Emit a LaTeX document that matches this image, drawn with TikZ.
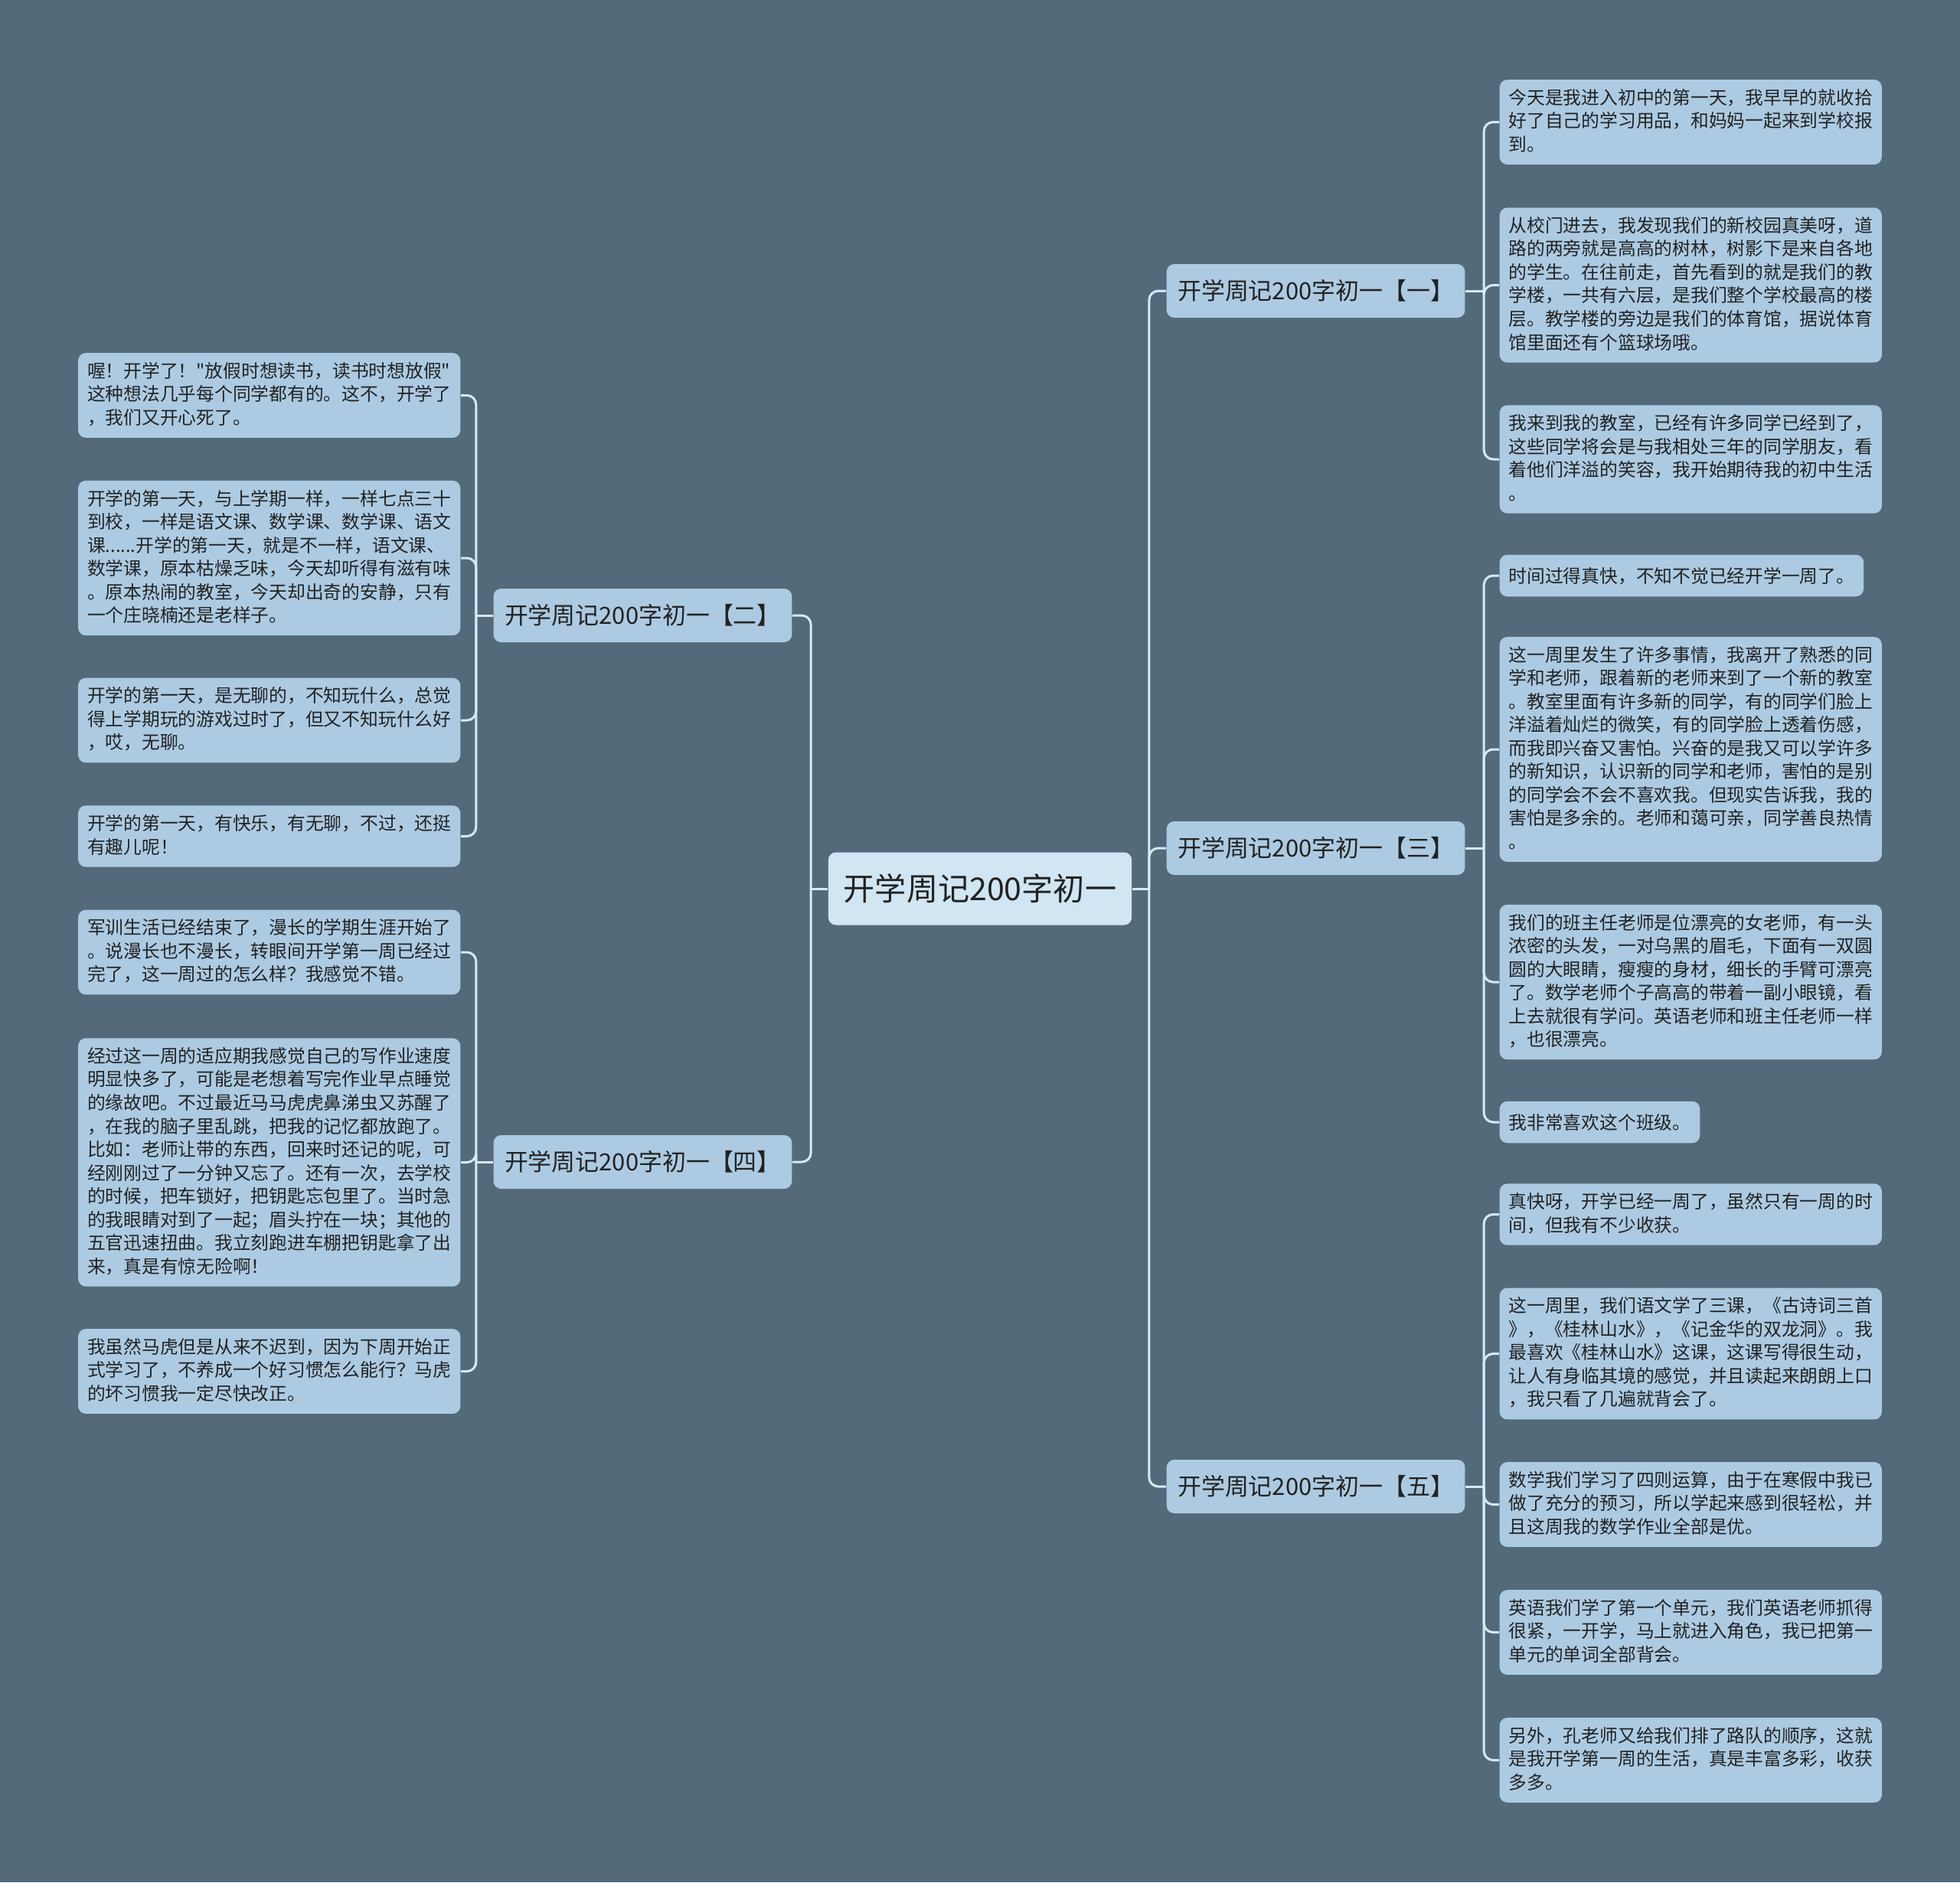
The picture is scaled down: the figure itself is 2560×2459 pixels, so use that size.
\documentclass[tikz,border=0pt]{standalone}
\usepackage{fontspec}
\newfontfamily\cjk{Noto Sans CJK SC}
\definecolor{bgcol}{HTML}{536A7A}
\definecolor{rootfill}{HTML}{D0E6F2}
\definecolor{boxfill}{HTML}{ACCBE2}
\definecolor{linecol}{HTML}{D4EAF6}
\definecolor{txt}{HTML}{222222}
\newcommand\topstrut{\rule{0pt}{\dimexpr0.7\baselineskip+0.35mm\relax}}
\newcommand\botstrut{\rule[\dimexpr-0.3\baselineskip+0.35mm\relax]{0pt}{0pt}}

\begin{document}
\begin{tikzpicture}[x = 0.1mm, y = -0.1mm,
  root/.style = {fill = rootfill, rounded corners = 1mm, minimum height = 9.5mm,
    inner xsep = 2mm, text = txt, font = \cjk\fontsize{11.7pt}{14pt}\selectfont},
  branch/.style = {fill = boxfill, rounded corners = 1mm, minimum height = 7mm,
    inner xsep = 1.45mm, text = txt, font = \cjk\fontsize{8.8pt}{10pt}\selectfont},
  leaf/.style = {fill = boxfill, rounded corners = 1mm, align = left,
    inner xsep = 1.2mm, inner ysep = 1.2mm, text = txt,
    font = \cjk\fontsize{6.76pt}{8.68pt}\selectfont,
    execute at begin node = \topstrut, execute at end node = \botstrut},
  link/.style = {draw = linecol, line width = 0.3mm, rounded corners = 1.2mm}]
  \fill[bgcol] (0, 0) rectangle (2560, 2459);
  \useasboundingbox (0, 0) rectangle (2560, 2459);

  \node[root] (root) at (1280, 1161) {开学周记200字初一};

  \node[branch, anchor = west] (b1) at (1523, 380) {开学周记200字初一【一】};
  \node[branch, anchor = west] (b3) at (1523, 1108) {开学周记200字初一【三】};
  \node[branch, anchor = west] (b5) at (1523, 1942) {开学周记200字初一【五】};
  \node[branch, anchor = east] (b2) at (1035, 804) {开学周记200字初一【二】};
  \node[branch, anchor = east] (b4) at (1035, 1518) {开学周记200字初一【四】};

  \begin{scope}[every node/.style = {leaf, anchor = west}]
    \node (l1a) at (1958, 159.5) {今天是我进入初中的第一天，我早早的就收拾\\好了自己的学习用品，和妈妈一起来到学校报\\到。};
    \node (l1b) at (1958, 372.5) {从校门进去，我发现我们的新校园真美呀，道\\路的两旁就是高高的树林，树影下是来自各地\\的学生。在往前走，首先看到的就是我们的教\\学楼，一共有六层，是我们整个学校最高的楼\\层。教学楼的旁边是我们的体育馆，据说体育\\馆里面还有个篮球场哦。};
    \node (l1c) at (1958, 600) {我来到我的教室，已经有许多同学已经到了，\\这些同学将会是与我相处三年的同学朋友，看\\着他们洋溢的笑容，我开始期待我的初中生活\\。};
    \node (l3a) at (1958, 752) {时间过得真快，不知不觉已经开学一周了。};
    \node (l3b) at (1958, 979) {这一周里发生了许多事情，我离开了熟悉的同\\学和老师，跟着新的老师来到了一个新的教室\\。教室里面有许多新的同学，有的同学们脸上\\洋溢着灿烂的微笑，有的同学脸上透着伤感，\\而我即兴奋又害怕。兴奋的是我又可以学许多\\的新知识，认识新的同学和老师，害怕的是别\\的同学会不会不喜欢我。但现实告诉我，我的\\害怕是多余的。老师和蔼可亲，同学善良热情\\。};
    \node (l3c) at (1958, 1283) {我们的班主任老师是位漂亮的女老师，有一头\\浓密的头发，一对乌黑的眉毛，下面有一双圆\\圆的大眼睛，瘦瘦的身材，细长的手臂可漂亮\\了。数学老师个子高高的带着一副小眼镜，看\\上去就很有学问。英语老师和班主任老师一样\\，也很漂亮。};
    \node (l3d) at (1958, 1466) {我非常喜欢这个班级。};
    \node (l5a) at (1958, 1586.5) {真快呀，开学已经一周了，虽然只有一周的时\\间，但我有不少收获。};
    \node (l5b) at (1958, 1768.5) {这一周里，我们语文学了三课，《古诗词三首\\》，《桂林山水》，《记金华的双龙洞》。我\\最喜欢《桂林山水》这课，这课写得很生动，\\让人有身临其境的感觉，并且读起来朗朗上口\\，我只看了几遍就背会了。};
    \node (l5c) at (1958, 1965.5) {数学我们学习了四则运算，由于在寒假中我已\\做了充分的预习，所以学起来感到很轻松，并\\且这周我的数学作业全部是优。};
    \node (l5d) at (1958, 2132.5) {英语我们学了第一个单元，我们英语老师抓得\\很紧，一开学，马上就进入角色，我已把第一\\单元的单词全部背会。};
    \node (l5e) at (1958, 2299.5) {另外，孔老师又给我们排了路队的顺序，这就\\是我开学第一周的生活，真是丰富多彩，收获\\多多。};
  \end{scope}

  \begin{scope}[every node/.style = {leaf, anchor = east}]
    \node (l2a) at (602, 516.5) {喔！开学了！"放假时想读书，读书时想放假"\\这种想法几乎每个同学都有的。这不，开学了\\，我们又开心死了。};
    \node (l2b) at (602, 729) {开学的第一天，与上学期一样，一样七点三十\\到校，一样是语文课、数学课、数学课、语文\\课......开学的第一天，就是不一样，语文课、\\数学课，原本枯燥乏味，今天却听得有滋有味\\。原本热闹的教室，今天却出奇的安静，只有\\一个庄晓楠还是老样子。};
    \node (l2c) at (602, 941) {开学的第一天，是无聊的，不知玩什么，总觉\\得上学期玩的游戏过时了，但又不知玩什么好\\，哎，无聊。};
    \node (l2d) at (602, 1092.5) {开学的第一天，有快乐，有无聊，不过，还挺\\有趣儿呢！};
    \node (l4a) at (602, 1244) {军训生活已经结束了，漫长的学期生涯开始了\\。说漫长也不漫长，转眼间开学第一周已经过\\完了，这一周过的怎么样？我感觉不错。};
    \node (l4b) at (602, 1518.5) {经过这一周的适应期我感觉自己的写作业速度\\明显快多了，可能是老想着写完作业早点睡觉\\的缘故吧。不过最近马马虎虎鼻涕虫又苏醒了\\，在我的脑子里乱跳，把我的记忆都放跑了。\\比如：老师让带的东西，回来时还记的呢，可\\经刚刚过了一分钟又忘了。还有一次，去学校\\的时候，把车锁好，把钥匙忘包里了。当时急\\的我眼睛对到了一起；眉头拧在一块；其他的\\五官迅速扭曲。我立刻跑进车棚把钥匙拿了出\\来，真是有惊无险啊！};
    \node (l4c) at (602, 1791.5) {我虽然马虎但是从来不迟到，因为下周开始正\\式学习了，不养成一个好习惯怎么能行？马虎\\的坏习惯我一定尽快改正。};
  \end{scope}

  \coordinate (rr) at ([xshift = 2.2mm] root.east);
  \coordinate (rl) at ([xshift = -2.2mm] root.west);
  \coordinate (j1) at ([xshift = 2.4mm] b1.east);
  \coordinate (j3) at ([xshift = 2.4mm] b3.east);
  \coordinate (j5) at ([xshift = 2.4mm] b5.east);
  \coordinate (j2) at ([xshift = -2.2mm] b2.west);
  \coordinate (j4) at ([xshift = -2.2mm] b4.west);

  \draw[link] (root.east) -- (rr);
  \draw[link] (root.west) -- (rl);
  \foreach \b in {b1, b3, b5}
    \draw[link] (rr) |- (\b.west);
  \foreach \b in {b2, b4}
    \draw[link] (rl) |- (\b.east);

  \foreach \b in {1, 3, 5}
    \draw[link] (b\b.east) -- (j\b);
  \foreach \b in {2, 4}
    \draw[link] (b\b.west) -- (j\b);

  \foreach \l in {l1a, l1b, l1c}
    \draw[link] (j1) |- (\l.west);
  \foreach \l in {l3a, l3b, l3c, l3d}
    \draw[link] (j3) |- (\l.west);
  \foreach \l in {l5a, l5b, l5c, l5d, l5e}
    \draw[link] (j5) |- (\l.west);
  \foreach \l in {l2a, l2b, l2c, l2d}
    \draw[link] (j2) |- (\l.east);
  \foreach \l in {l4a, l4b, l4c}
    \draw[link] (j4) |- (\l.east);
\end{tikzpicture}
\end{document}
